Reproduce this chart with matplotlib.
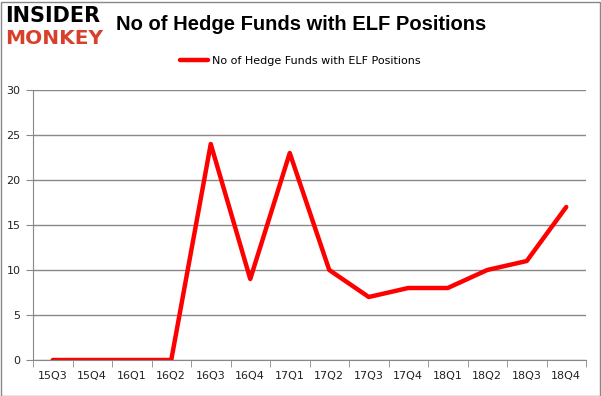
import matplotlib
matplotlib.use('Agg')
import matplotlib.pyplot as plt
from matplotlib.patches import Rectangle

quarters = ['15Q3', '15Q4', '16Q1', '16Q2', '16Q3', '16Q4', '17Q1',
            '17Q2', '17Q3', '17Q4', '18Q1', '18Q2', '18Q3', '18Q4']
funds = [0, 0, 0, 0, 24, 9, 23, 10, 7, 8, 8, 10, 11, 17]
yticks = [0, 5, 10, 15, 20, 25, 30]

plt.rcParams['font.family'] = ['DejaVu Sans']

fig = plt.figure(figsize=(6.01, 3.96), dpi=100)
ax = fig.add_axes([33 / 601, 36 / 396, 553 / 601, 270 / 396])

x = list(range(len(quarters)))
ax.plot(x, funds, color='#ff0000', linewidth=3.2, solid_capstyle='round',
        label='No of Hedge Funds with ELF Positions')

ax.set_xlim(-0.5, len(quarters) - 0.5)
ax.set_ylim(0, 30)
ax.set_yticks(yticks)
ax.set_xticks(x)
ax.set_xticklabels(quarters)
ax.set_xticks([i - 0.5 for i in range(len(quarters) + 1)], minor=True)
ax.tick_params(axis='x', which='major', length=0, pad=8, labelsize=8, labelcolor='#222222')
ax.tick_params(axis='x', which='minor', length=5, color='#888888')
ax.tick_params(axis='y', length=5, color='#888888', labelsize=8, labelcolor='#222222', pad=4)
ax.grid(axis='y', color='#888888', linewidth=1)
ax.set_axisbelow(True)
for s in ['top', 'right']:
    ax.spines[s].set_visible(False)
ax.spines['left'].set_color('#888888')
ax.spines['bottom'].set_color('#888888')

fig.legend(loc='center', bbox_to_anchor=(300 / 601, 1 - 61 / 396), frameon=False,
           fontsize=8, handlelength=2.6, handletextpad=0.3)

fig.text(301 / 601, 1 - 25 / 396, 'No of Hedge Funds with ELF Positions',
         ha='center', va='center', fontsize=14.5, fontweight='bold', color='black',
         family='Liberation Sans')
fig.text(5 / 601, 1 - 16 / 396, 'INSIDER', ha='left', va='center',
         fontsize=15, fontweight='bold', color='black')
fig.text(5 / 601, 1 - 38 / 396, 'MONKEY', ha='left', va='center',
         fontsize=14.5, fontweight='bold', color='#d9402b')

fig.patches.append(Rectangle((0.5 / 601, 0.5 / 396), 599 / 601, 394 / 396,
                             transform=fig.transFigure, fill=False,
                             edgecolor='#888888', linewidth=1))

fig.savefig('out.png', dpi=100)
